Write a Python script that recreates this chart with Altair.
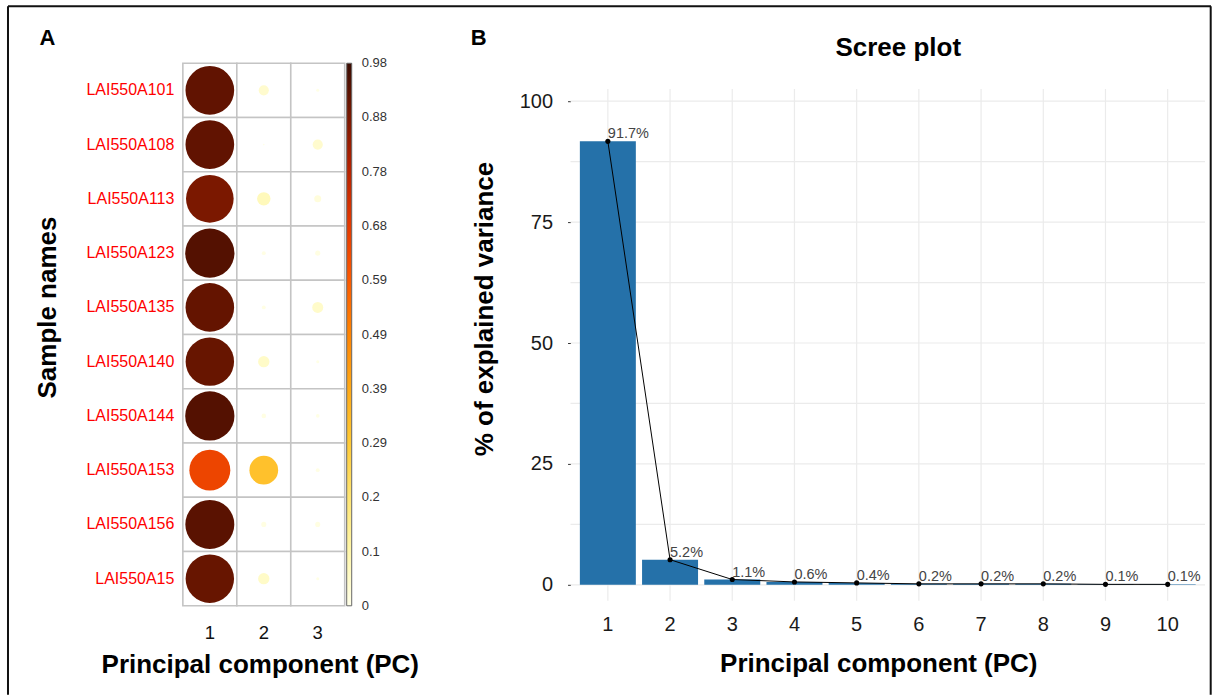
import altair as alt
import pandas as pd

# ---------------- Panel A: cos2 of each sample on PC1-PC3 ----------------
samples = ["LAI550A101", "LAI550A108", "LAI550A113", "LAI550A123", "LAI550A135",
           "LAI550A140", "LAI550A144", "LAI550A153", "LAI550A156", "LAI550A15"]
pc_short = ["1", "2", "3"]
cos2_pc1 = [0.92, 0.92, 0.88, 0.94, 0.915, 0.91, 0.94, 0.65, 0.93, 0.91]
cos2_pc2 = [0.04, 0.001, 0.07, 0.006, 0.006, 0.05, 0.008, 0.32, 0.01, 0.05]
cos2_pc3 = [0.0035, 0.04, 0.019, 0.01, 0.047, 0.0035, 0.005, 0.006, 0.01, 0.0035]

# colour bar (value stops -> colours), tick positions and their printed labels
cbar_stops = [0, 0.1, 0.2, 0.3, 0.4, 0.5, 0.6, 0.7, 0.8, 0.9, 0.98]
cbar_colors = ["#FFFFE8", "#FFF6A8", "#FFE470", "#FFC832", "#FFA614", "#FF8000",
               "#FA5500", "#E03600", "#B02000", "#6E1600", "#3A0C02"]
# end ticks sit a hair inside the bar so their labels stay centred on the tick
cbar_tick_pos = [0.0004, 0.098, 0.196, 0.294, 0.392, 0.49, 0.588, 0.686, 0.784, 0.882, 0.9796]
cbar_tick_text = ["0", "0.1", "0.2", "0.29", "0.39", "0.49", "0.59", "0.68", "0.78",
                  "0.88", "0.98"]

# ---------------- Panel B: scree plot ----------------
components = ["1", "2", "3", "4", "5", "6", "7", "8", "9", "10"]
explained = [91.7, 5.2, 1.1, 0.6, 0.4, 0.2, 0.2, 0.2, 0.1, 0.1]
major_ticks = [0, 25, 50, 75, 100]
grid_levels = [0, 12.5, 25, 37.5, 50, 62.5, 75, 87.5, 100]

ARIAL = "Liberation Sans, Arial, Helvetica, sans-serif"
BAR = "#2571A9"

A_W, A_H = 162, 543
B_W, B_H = 635, 538

rows = []
for s, a, b, c in zip(samples, cos2_pc1, cos2_pc2, cos2_pc3):
    for pc, v in zip(pc_short, (a, b, c)):
        rows.append({"sample": s, "pc": pc, "cos2": v})
cos2_df = pd.DataFrame(rows)

scree_df = pd.DataFrame({
    "pc": components,
    "pct": explained,
    "label": [f"{v}%" for v in explained],
})

one_row = pd.DataFrame({"k": [0]})

# legend label lookup: each tick position prints its own text
cbar_label_expr = "".join(
    f"datum.value < {p + 0.01} ? '{t}' : " for p, t in zip(cbar_tick_pos, cbar_tick_text)
) + "''"

# ---------- panel A ----------
x_a = alt.X(
    "pc:O", sort=pc_short,
    scale=alt.Scale(paddingInner=0, paddingOuter=0),
    axis=alt.Axis(labelAngle=0, labelFont=ARIAL, labelFontSize=18.5, labelColor="#111",
                  labelPadding=18, ticks=False, tickSize=0, domain=False, grid=False,
                  title="Principal component (PC)", titleFont=ARIAL, titleFontSize=26,
                  titleFontWeight="bold", titleColor="#000", titleX=77, titleY=66.7,
                  titleBaseline="alphabetic", titleAlign="center"),
)
y_a = alt.Y(
    "sample:N", sort=samples,
    scale=alt.Scale(paddingInner=0, paddingOuter=0),
    axis=alt.Axis(labelFont=ARIAL, labelFontSize=16, labelColor="#FF0000",
                  labelPadding=9, ticks=False, tickSize=0, domain=False, grid=False,
                  title="Sample names", titleFont=ARIAL, titleFontSize=26,
                  titleFontWeight="bold", titleColor="#000", titleX=-127.5, titleY=244,
                  titleBaseline="alphabetic", titleAlign="center", titleAngle=270),
)

cells = alt.Chart(cos2_df).mark_rect(
    fill="white", stroke="#c4c4c4", strokeWidth=1.6
).encode(x=x_a, y=y_a)

# symbol size is the area of the circle's bounding square (diameter = sqrt(size))
dots = alt.Chart(cos2_df).mark_circle(opacity=1).encode(
    x=x_a,
    y=y_a,
    size=alt.Size("cos2:Q", scale=alt.Scale(domain=[0, 1], range=[0, 2582]), legend=None),
    color=alt.Color(
        "cos2:Q",
        scale=alt.Scale(domain=cbar_stops, range=cbar_colors, interpolate="rgb"),
        legend=alt.Legend(
            title=None, orient="none", legendX=164, legendY=0, direction="vertical",
            gradientLength=A_H, gradientThickness=5, gradientStrokeColor="#666",
            gradientStrokeWidth=1, values=cbar_tick_pos, labelExpr=cbar_label_expr,
            labelFont=ARIAL, labelFontSize=13, labelColor="#333", labelOffset=10,
            labelOverlap=False, labelBaseline="middle", padding=0,
        ),
    ),
)

label_a = alt.Chart(pd.DataFrame({"t": ["A"]})).mark_text(
    font=ARIAL, fontSize=22, fontWeight="bold", align="center", baseline="alphabetic",
    color="#000",
).encode(text="t:N", x=alt.value(-135.5), y=alt.value(-18))

# outer frame of the figure
frame_top = alt.Chart(one_row).mark_rule(color="#111", strokeWidth=2).encode(
    x=alt.value(-175), x2=alt.value(1029), y=alt.value(-57))
frame_left = alt.Chart(one_row).mark_rule(color="#111", strokeWidth=2).encode(
    x=alt.value(-175), y=alt.value(-57), y2=alt.value(632))
frame_right = alt.Chart(one_row).mark_rule(color="#111", strokeWidth=2).encode(
    x=alt.value(1028.7), y=alt.value(-57), y2=alt.value(632))

panel_a = alt.layer(
    cells, dots, label_a, frame_top, frame_left, frame_right
).properties(width=A_W, height=A_H)

# ---------- panel B ----------
x_b = alt.X(
    "pc:O", sort=components,
    scale=alt.Scale(paddingInner=0.1, paddingOuter=0.15),
    axis=alt.Axis(labelAngle=0, labelFont=ARIAL, labelFontSize=20, labelColor="#1a1a1a",
                  labelPadding=13.5, ticks=False, tickSize=0, domain=False, grid=False,
                  title="Principal component (PC)", titleFont=ARIAL, titleFontSize=26,
                  titleFontWeight="bold", titleColor="#000", titleX=308, titleY=71,
                  titleBaseline="alphabetic", titleAlign="center"),
)
y_scale_b = alt.Scale(domain=[-3.3, 107.85], nice=False, zero=False)
y_axis_b = alt.Axis(values=major_ticks, grid=False, domain=False, ticks=True, tickSize=3,
                    tickColor="#333", tickWidth=1, labelFont=ARIAL, labelFontSize=20,
                    labelColor="#1a1a1a", labelPadding=15,
                    title="% of explained variance", titleFont=ARIAL, titleFontSize=26,
                    titleFontWeight="bold", titleColor="#000", titleX=-78, titleY=245.5,
                    titleBaseline="alphabetic", titleAlign="center", titleAngle=270)
y_b = alt.Y("pct:Q", scale=y_scale_b, axis=y_axis_b)

hgrid = alt.Chart(pd.DataFrame({"pct": grid_levels})).mark_rule(
    color="#ebebeb", strokeWidth=1.2
).encode(y=y_b, x=alt.value(0), x2=alt.value(B_W))

vgrid = alt.Chart(scree_df).mark_rule(color="#ebebeb", strokeWidth=1.2).encode(
    x=x_b, y=alt.datum(102.5), y2=alt.datum(-3.3))

bars = alt.Chart(scree_df).mark_bar(color=BAR).encode(x=x_b, y=y_b)
line = alt.Chart(scree_df).mark_line(color="#000", strokeWidth=1).encode(x=x_b, y=y_b)
pts = alt.Chart(scree_df).mark_circle(color="#000", size=26, opacity=1).encode(x=x_b, y=y_b)
pct_text = alt.Chart(scree_df).mark_text(
    align="left", baseline="alphabetic", dy=-3, font=ARIAL, fontSize=14.5, color="#444"
).encode(x=x_b, y=y_b, text="label:N")

title_b = alt.Chart(pd.DataFrame({"t": ["Scree plot"]})).mark_text(
    font=ARIAL, fontSize=26, fontWeight="bold", align="center", baseline="alphabetic",
    color="#000",
).encode(text="t:N", x=alt.value(328), y=alt.value(-7))
label_b = alt.Chart(pd.DataFrame({"t": ["B"]})).mark_text(
    font=ARIAL, fontSize=22, fontWeight="bold", align="center", baseline="alphabetic",
    color="#000",
).encode(text="t:N", x=alt.value(-92), y=alt.value(-18))

panel_b = alt.layer(
    hgrid, vgrid, bars, line, pts, pct_text, title_b, label_b
).properties(width=B_W, height=B_H)

chart = alt.hconcat(panel_a, panel_b, spacing=226, bounds="flush").properties(
    padding={"left": 6, "top": 4, "right": 0, "bottom": 0},
    background="white",
).configure_view(stroke="transparent")

chart.save("out.html", embed_options={"renderer": "svg", "actions": False})
